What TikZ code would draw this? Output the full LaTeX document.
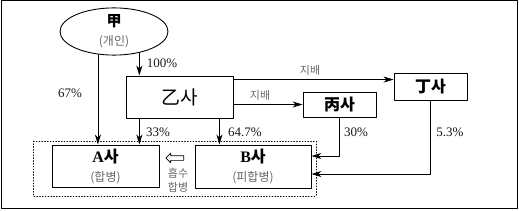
\documentclass[tikz,border=0pt]{standalone}
\usepackage{fontspec}
\setmainfont{Noto Sans CJK KR}
\newfontfamily\latinserif{Liberation Serif}
\usetikzlibrary{arrows.meta, shapes.geometric, shapes.arrows, calc}

\begin{document}
\begin{tikzpicture}[x=1pt, y=-1pt, line cap=round, line join=round,
  box/.style={draw, line width=0.9pt, inner sep=0pt, align=center},
  freccia/.style={-{Stealth[length=10pt,width=6pt,inset=3pt]}, line width=0.8pt},
  perc/.style={font=\latinserif\fontsize{13}{14}\selectfont, text=black!90},
  nota/.style={text=black!60, font=\fontsize{11}{14}\selectfont}]
  % cornice esterna
  \useasboundingbox (0,0) rectangle (519,211);
  \draw[line width=1pt] (1,1) rectangle (517,208);

  % soggetti
  \node[box, ellipse, minimum width=108, minimum height=42, font=\fontsize{12}{19}\selectfont] (jia) at (114,31.5)
    {{\fontsize{15}{19}\selectfont\bfseries 甲}\\{\color{black!60}(개인)}};
  \node[box, minimum width=107, minimum height=42, font=\fontsize{19}{20}\selectfont] (yi) at (179.5,97) {乙사};
  \node[box, minimum width=73, minimum height=25, font=\fontsize{16}{17}\selectfont\bfseries] (bing) at (339.5,104.5) {丙사};
  \node[box, minimum width=73, minimum height=27, font=\fontsize{16}{17}\selectfont\bfseries] (ding) at (430.5,86.5) {丁사};
  \node[box, minimum width=107, minimum height=42, font=\fontsize{12}{19}\selectfont] (A) at (105.5,166)
    {{\fontsize{16}{19}\selectfont\bfseries{\latinserif A}사}\\{\color{black!60}(합병)}};
  \node[box, minimum width=116, minimum height=43, font=\fontsize{12}{19}\selectfont] (B) at (253,166.5)
    {{\fontsize{16}{19}\selectfont\bfseries{\latinserif B}사}\\{\color{black!60}(피합병)}};

  % area della fusione
  \draw[dotted, line width=0.8pt] (33,141) rectangle (316,196);
  \node[single arrow, draw, shape border rotate=180, minimum height=18, minimum width=9,
    single arrow head extend=2.5pt, inner sep=2pt, line width=0.7pt] (fusione) at (176,158) {};
  \node[nota, align=center] (assorbe) at (178,180) {흡수\\합병};

  % partecipazioni
  \draw[freccia] (jia.235) -- (jia.235 |- A.north);
  \draw[freccia] (jia.320) -- (jia.320 |- yi.north);
  \draw[freccia] (yi.south -| jia.320) -- (A.north -| jia.320);
  \coordinate (yiB) at ($(yi.south west)!0.87!(yi.south east)$);
  \draw[freccia] (yiB) -- (yiB |- B.north);
  \draw[freccia] ([yshift=-4pt]yi.north east) -- ([yshift=-4pt]yi.north east -| ding.west);
  \draw[freccia] (yi.east |- bing.west) -- (bing.west);
  \draw[freccia] (bing.south) |- ([yshift=10.5pt]B.east);
  \draw[freccia] (ding.south) |- ([yshift=-7.5pt]B.east);

  % etichette
  \node[perc] (p67) at (70,93) {67\%};
  \node[perc] (p100) at (162,63) {100\%};
  \node[perc] (p33) at (158,132) {33\%};
  \node[perc] (p647) at (245,132) {64.7\%};
  \node[perc] (p30) at (356,132) {30\%};
  \node[perc] (p53) at (450,132) {5.3\%};
  \node[nota] (ctrl1) at (310,70) {지배};
  \node[nota] (ctrl2) at (260,95) {지배};
\end{tikzpicture}
\end{document}
